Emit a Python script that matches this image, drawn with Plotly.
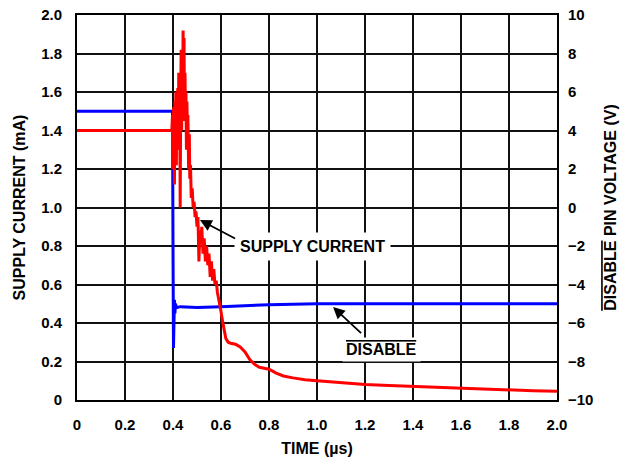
import plotly.graph_objects as go

# supply current (mA) vs time (us)
cur_t = [0.0, 0.1, 0.2, 0.3, 0.39, 0.395, 0.398, 0.400, 0.402, 0.404, 0.406, 0.408,
         0.410, 0.412, 0.414, 0.416, 0.418, 0.420, 0.422, 0.424, 0.426, 0.428,
         0.430, 0.432, 0.434, 0.436, 0.438, 0.440, 0.442, 0.444, 0.446, 0.448,
         0.450, 0.452, 0.454, 0.456, 0.458, 0.460, 0.462, 0.465, 0.468, 0.470,
         0.473, 0.476, 0.480, 0.484, 0.488, 0.492, 0.496, 0.500, 0.504, 0.508,
         0.512, 0.516, 0.520, 0.525, 0.530, 0.535, 0.540, 0.545, 0.550, 0.555,
         0.560, 0.565, 0.570, 0.575, 0.580, 0.585, 0.590, 0.595, 0.600, 0.605,
         0.610, 0.615, 0.620, 0.630, 0.640, 0.660, 0.680, 0.700, 0.720, 0.740,
         0.760, 0.780, 0.800, 0.830, 0.860, 0.900, 0.950, 1.000, 1.100, 1.200,
         1.300, 1.400, 1.500, 1.600, 1.700, 1.800, 1.900, 2.000]
cur_ma = [1.40, 1.40, 1.40, 1.40, 1.40, 1.40, 1.48, 1.20, 1.52, 1.42, 1.12, 1.55,
          1.45, 1.60, 1.22, 1.58, 1.50, 1.62, 1.30, 1.70, 1.45, 1.65,
          1.00, 1.55, 1.82, 1.40, 1.75, 1.50, 1.92, 1.60, 1.88, 1.45,
          1.70, 1.50, 1.60, 1.30, 1.55, 1.40, 1.48, 1.20, 1.38, 1.15,
          1.22, 1.05, 1.10, 1.00, 1.03, 0.95, 0.98, 0.90, 0.95, 0.72,
          0.88, 0.82, 0.90, 0.76, 0.84, 0.72, 0.80, 0.70, 0.76, 0.64,
          0.72, 0.62, 0.68, 0.60, 0.62, 0.56, 0.53, 0.50, 0.46, 0.42,
          0.38, 0.34, 0.32, 0.30, 0.295, 0.29, 0.275, 0.25, 0.21, 0.185,
          0.17, 0.165, 0.16, 0.14, 0.125, 0.115, 0.105, 0.10, 0.09, 0.08,
          0.075, 0.07, 0.065, 0.06, 0.055, 0.05, 0.048, 0.045]

# DISABLE pin voltage (V) vs time (us)
dis_t = [0.0, 0.2, 0.39, 0.398, 0.400, 0.402, 0.404, 0.406, 0.408, 0.410, 0.415,
         0.430, 0.500, 0.600, 0.700, 0.800, 1.000, 1.200, 1.500, 2.000]
dis_v = [5.0, 5.0, 5.0, 5.0, -2.0, -7.3, -6.0, -4.8, -5.5, -5.0, -5.2,
         -5.15, -5.2, -5.15, -5.1, -5.05, -5.0, -5.0, -5.0, -5.0]

x_ticks = [0, 0.2, 0.4, 0.6, 0.8, 1.0, 1.2, 1.4, 1.6, 1.8, 2.0]
x_labels = ["0", "0.2", "0.4", "0.6", "0.8", "1.0", "1.2", "1.4", "1.6", "1.8", "2.0"]
y_ticks = [0, 0.2, 0.4, 0.6, 0.8, 1.0, 1.2, 1.4, 1.6, 1.8, 2.0]
y_labels = ["0", "0.2", "0.4", "0.6", "0.8", "1.0", "1.2", "1.4", "1.6", "1.8", "2.0"]

FONT = "Liberation Sans, Arial, sans-serif"

fig = go.Figure()
fig.add_trace(go.Scatter(x=dis_t, y=dis_v, yaxis="y2", mode="lines",
                         line=dict(color="#0000ff", width=3)))
fig.add_trace(go.Scatter(x=cur_t, y=cur_ma, yaxis="y", mode="lines",
                         line=dict(color="#ff0000", width=3)))

fig.update_layout(
    width=624, height=457,
    margin=dict(l=77, r=67, t=15, b=57),
    paper_bgcolor="white", plot_bgcolor="white",
    showlegend=False,
    font=dict(family=FONT, size=14, color="black"),
    xaxis=dict(range=[0, 2.0], tickvals=x_ticks, ticktext=x_labels, automargin=False,
               showgrid=True, gridcolor="#111", gridwidth=1.6,
               showline=True, linecolor="black", linewidth=2, mirror=True,
               zeroline=False, ticks="", ticklabelstandoff=10,
               tickfont=dict(size=15, weight="bold"),
               title=dict(text="<b>TIME (µs)</b>", font=dict(size=16), standoff=12)),
    yaxis2=dict(range=[-10, 10], dtick=2, side="right", showgrid=False, automargin=False,
                zeroline=False, showline=False, ticks="", ticklabelstandoff=10,
                tickfont=dict(size=15, weight="bold"),
                title=dict(text="<b><span style='text-decoration:overline'>DISABLE</span> PIN VOLTAGE (V)</b>",
                           font=dict(size=16), standoff=12)),
    yaxis=dict(range=[0, 2.0], tickvals=y_ticks, ticktext=y_labels, automargin=False,
               overlaying="y2", side="left",
               showgrid=True, gridcolor="#111", gridwidth=1.6,
               showline=True, linecolor="black", linewidth=2, mirror=True,
               zeroline=False, ticks="", ticklabelstandoff=10,
               tickfont=dict(size=15, weight="bold"),
               title=dict(text="<b>SUPPLY CURRENT (mA)</b>", font=dict(size=16), standoff=12)),
)

# callouts
fig.add_annotation(x=0.98, y=0.795, xref="x", yref="y", text="<b>SUPPLY CURRENT</b>",
                   showarrow=False, bgcolor="white", borderpad=5,
                   font=dict(size=16))
fig.add_annotation(x=0.5125, y=0.935, ax=0.665, ay=0.835, xref="x", yref="y",
                   axref="x", ayref="y", text="", showarrow=True,
                   arrowhead=2, arrowsize=1.3, arrowwidth=1.8, arrowcolor="black")
fig.add_annotation(x=1.27, y=0.26, xref="x", yref="y",
                   text="<b><span style='text-decoration:overline'>DISABLE</span></b>",
                   showarrow=False, bgcolor="white", borderpad=3,
                   font=dict(size=16))
fig.add_annotation(x=1.067, y=0.483, ax=1.19, ay=0.34, xref="x", yref="y",
                   axref="x", ayref="y", text="", showarrow=True,
                   arrowhead=2, arrowsize=1.3, arrowwidth=1.8, arrowcolor="black")

fig.write_html("out.html", config={"displayModeBar": False},
               post_script="document.body.style.margin='0px';")
